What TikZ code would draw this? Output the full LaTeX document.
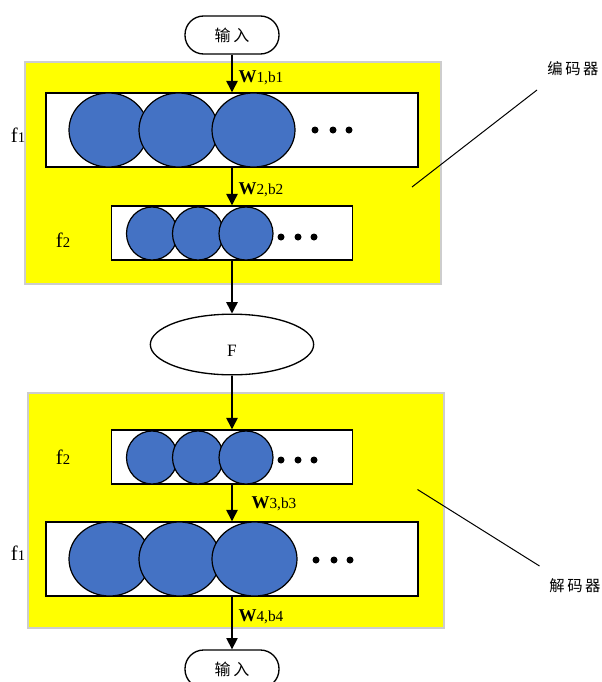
\documentclass[tikz,border=0pt]{standalone}
\usepackage{fontspec}
\setmainfont{Liberation Serif}
\newfontfamily\cjk{Noto Sans CJK SC}
\usetikzlibrary{arrows.meta,shapes.geometric}

\definecolor{unitblue}{RGB}{68,114,196}
\definecolor{panelgray}{RGB}{205,205,205}
\definecolor{panelyellow}{RGB}{255,255,0}
\tikzset{every picture/.style={line width=0.75pt}}
\newcommand{\wb}[1]{{\fontsize{13.5}{15}\selectfont\bfseries W}#1,b#1}
\newcommand{\fl}[1]{f{\fontsize{11}{12}\selectfont #1}}

\begin{document}
\begin{tikzpicture}[x=0.75pt,y=0.75pt,yscale=-1,xscale=1,
	term/.style={draw,line width=1pt,rounded corners=14pt,minimum width=70.5pt,minimum height=28.5pt,inner sep=0pt,fill=white,font=\cjk\fontsize{12}{14}\selectfont},
	layer/.style={draw,line width=1.1pt,fill=white,inner sep=0pt},
	panel/.style={draw=panelgray,fill=panelyellow,line width=1pt},
	unit/.style={draw,line width=0.9pt,fill=unitblue},
	flow/.style={line width=1.1pt,-{Triangle[length=8.5pt,width=8.5pt]}},
	wlabel/.style={anchor=west,inner sep=0pt,font=\fontsize{11.5}{13}\selectfont},
	flabel/.style={inner sep=0pt,font=\fontsize{15.5}{17}\selectfont},
	tag/.style={inner sep=0pt,font=\cjk\fontsize{11.5}{13}\selectfont}]
	\useasboundingbox (0,0) rectangle (601,682);

	%Shape: Rectangle [encoder panel]
	\draw [panel] (25,62) rectangle (441,284);
	%Shape: Rectangle [decoder panel]
	\draw [panel] (28,393) rectangle (444,628);

	% Terminals
	\node [term] (inTop) at (232,35) {输\hspace{2pt}入};
	\node [term] (inBot) at (232,669) {输\hspace{2pt}入};
	%Shape: Ellipse
	\node [draw,ellipse,line width=1pt,fill=white,minimum width=122.5pt,minimum height=45.5pt,inner sep=0pt,text height=18.5pt,text depth=0pt,font=\fontsize{13}{15}\selectfont] (code) at (232,344.5) {F};

	% Layers
	\node [layer,minimum width=279pt,minimum height=55.5pt] (encA) at (232,130) {};
	\node [layer,minimum width=180.75pt,minimum height=40.5pt] (encB) at (232,233) {};
	\node [layer,minimum width=180.75pt,minimum height=40.5pt] (decB) at (232,457) {};
	\node [layer,minimum width=279pt,minimum height=55.5pt] (decA) at (232,559) {};

	% Units
	\foreach \cx/\rx in {108.5/39.5,178.5/39.5,253.5/41.5} {
		\draw [unit] (\cx,130) ellipse [x radius=\rx, y radius=37];
		\draw [unit] (\cx+1,559) ellipse [x radius=\rx+1, y radius=37];
	}
	\foreach \cx/\rx in {152/25.5,198/25.5,246/27} {
		\draw [unit] (\cx,233.5) ellipse [x radius=\rx, y radius=26.5];
		\draw [unit] (\cx,457.5) ellipse [x radius=\rx, y radius=26.5];
	}
	\foreach \dx in {315,333,349} {
		\fill (\dx,130) circle [radius=3.5];
		\fill (\dx+1,560) circle [radius=3.5];
	}
	\foreach \dx in {281,298,314} {
		\fill (\dx,237) circle [radius=3.5];
		\fill (\dx,460) circle [radius=3.5];
	}

	% Connectors
	\draw [flow] (inTop.south) -- (encA.north);
	\draw [flow] (encA.south) -- (encB.north);
	\draw [flow] (encB.south) -- (code.north);
	\draw [flow] (code.south) -- (decB.north);
	\draw [flow] (decB.south) -- (decA.north);
	\draw [flow] (decA.south) -- (inBot.north);

	% Text Node
	\node [wlabel] (w1) at (238,78) {\wb{1}};
	\node [wlabel] (w2) at (238,190) {\wb{2}};
	\node [wlabel] (w3) at (251,504) {\wb{3}};
	\node [wlabel] (w4) at (238,617) {\wb{4}};
	\node [flabel] (fA) at (18,135) {\fl{1}};
	\node [flabel] (fB) at (63,240) {\fl{2}};
	\node [flabel] (fC) at (63,457) {\fl{2}};
	\node [flabel] (fD) at (18,553) {\fl{1}};

	% Callouts
	\node [tag] (enc) at (573,69) {编\,码\,器};
	\node [tag] (dec) at (575,586) {解\,码\,器};
	\coordinate (encTip) at (412,187);
	\coordinate (encEnd) at (537,90);
	\coordinate (decTip) at (417.5,489.5);
	\coordinate (decEnd) at (539.5,566);
	\draw (encTip) -- (encEnd);
	\draw (decTip) -- (decEnd);

\end{tikzpicture}
\end{document}
